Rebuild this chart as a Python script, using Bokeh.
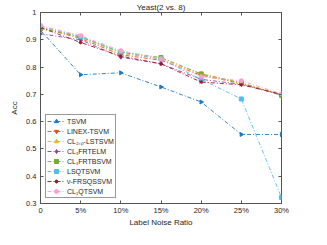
from bokeh.plotting import figure
from bokeh.models import LinearAxis, FixedTicker, Range1d
from bokeh.embed import file_html
from bokeh.resources import INLINE

noise = [0, 5, 10, 15, 20, 25, 30]
x_tick_labels = ["0", "5%", "10%", "15%", "20%", "25%", "30%"]
y_ticks = [0.3, 0.4, 0.5, 0.6, 0.7, 0.8, 0.9, 1.0]
y_tick_labels = ["0.3", "0.4", "0.5", "0.6", "0.7", "0.8", "0.9", "1"]

tsvm = [0.935, 0.772, 0.779, 0.727, 0.672, 0.553, 0.553]
linex = [0.945, 0.905, 0.845, 0.825, 0.770, 0.740, 0.697]
cl2p = [0.947, 0.910, 0.850, 0.830, 0.775, 0.742, 0.700]
cl1frtelm = [0.922, 0.900, 0.836, 0.812, 0.755, 0.737, 0.700]
cl1frtbsvm = [0.942, 0.910, 0.855, 0.835, 0.775, 0.742, 0.696]
lsqtsvm = [0.950, 0.912, 0.855, 0.830, 0.755, 0.683, 0.322]
nufrsq = [0.945, 0.890, 0.840, 0.812, 0.745, 0.735, 0.700]
cl1qtsvm = [0.952, 0.915, 0.860, 0.830, 0.765, 0.750, 0.702]

series = [
    ("TSVM", tsvm, "#1878C6", "triangle", -90),
    ("LINEX-TSVM", linex, "#D95319", "inverted_triangle", 0),
    ("CL\u2082,\u209a-LSTSVM", cl2p, "#EDB120", "triangle", 0),
    ("CL\u2081FRTELM", cl1frtelm, "#8E3F9E", "diamond", 0),
    ("CL\u2081FRTBSVM", cl1frtbsvm, "#77AC30", "square", 0),
    ("LSQTSVM", lsqtsvm, "#4DBEEE", "square", 0),
    ("\u03bd-FRSQSSVM", nufrsq, "#A2142F", "asterisk", 0),
    ("CL\u2081QTSVM", cl1qtsvm, "#FF9ECF", "circle", 0),
]

FONT = "Liberation Sans"
AX = "#555555"
TXT = "#262626"

p = figure(width=311, height=229, output_backend="svg", toolbar_location=None,
           x_range=Range1d(0, 30), y_range=Range1d(0.3, 1.0),
           min_border_left=40, min_border_right=30, min_border_top=2,
           min_border_bottom=0, title="Yeast(2 vs. 8)")
p.title.align = "center"
p.title.text_font = FONT
p.title.text_font_size = "8px"
p.title.text_font_style = "normal"
p.title.text_color = TXT
p.title.standoff = 1
p.xgrid.visible = False
p.ygrid.visible = False
p.outline_line_color = AX
p.outline_line_width = 1

for name, vals, color, marker, ang in series:
    p.line(noise, vals, line_color=color, line_width=0.9, line_dash="4 2 1 2",
           legend_label=name)
    p.scatter(noise, vals, marker=marker, size=4, line_color=color,
              fill_color=color, angle=ang, angle_units="deg",
              legend_label=name)

for ax in (p.xaxis[0], p.yaxis[0]):
    ax.major_tick_in = 3
    ax.major_tick_out = 0
    ax.minor_tick_line_color = None
    ax.axis_line_color = AX
    ax.major_tick_line_color = AX
    ax.major_label_text_font = FONT
    ax.major_label_text_font_size = "7.5px"
    ax.major_label_text_color = TXT
    ax.axis_label_text_font = FONT
    ax.axis_label_text_font_size = "8px"
    ax.axis_label_text_font_style = "normal"
    ax.axis_label_text_color = TXT

p.xaxis.ticker = FixedTicker(ticks=noise)
p.xaxis.major_label_overrides = {v: l for v, l in zip(noise, x_tick_labels)}
p.yaxis.ticker = FixedTicker(ticks=y_ticks)
p.yaxis.major_label_overrides = {v: l for v, l in zip(y_ticks, y_tick_labels)}
p.xaxis.axis_label = "Label Noise Ratio"
p.yaxis.axis_label = "Acc"
p.xaxis.axis_label_standoff = 0
p.yaxis.axis_label_standoff = 4
p.xaxis.major_label_standoff = 2
p.yaxis.major_label_standoff = 4

top = LinearAxis(ticker=FixedTicker(ticks=noise), major_tick_in=3, major_tick_out=0,
                 major_label_overrides={v: "" for v in noise},
                 major_label_standoff=0, minor_tick_line_color=None,
                 axis_line_color=None, major_tick_line_color=AX)
right = LinearAxis(ticker=FixedTicker(ticks=y_ticks), major_tick_in=3, major_tick_out=0,
                   major_label_overrides={v: "" for v in y_ticks},
                   major_label_standoff=0, minor_tick_line_color=None,
                   axis_line_color=None, major_tick_line_color=AX)
p.add_layout(top, "above")
p.add_layout(right, "right")

lg = p.legend[0]
lg.location = "bottom_left"
lg.margin = 5
lg.padding = 1
lg.spacing = 0
lg.label_text_font = FONT
lg.label_text_font_size = "7px"
lg.label_text_color = TXT
lg.label_height = 10
lg.glyph_height = 10
lg.glyph_width = 18
lg.label_standoff = 2
lg.border_line_color = "#333333"
lg.border_line_width = 1
lg.background_fill_color = "white"
lg.background_fill_alpha = 1

open("out.html", "w").write(file_html(p, INLINE))
